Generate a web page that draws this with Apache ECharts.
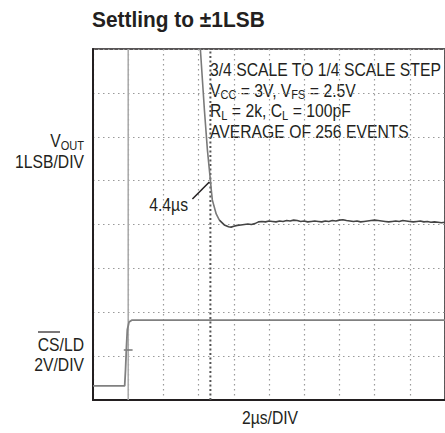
<!DOCTYPE html>
<html><head><meta charset="utf-8">
<script src="https://cdn.jsdelivr.net/npm/echarts@6/dist/echarts.min.js"></script>
<style>html,body{margin:0;padding:0;background:#fff}#c{width:445px;height:433px}</style>
</head><body><div id="c"></div>
<script>
// Time axis in µs relative to the CS/LD trigger edge (2µs per division)
const xTicks = [-2, 0, 2, 4, 6, 8, 10, 12, 14, 16, 18];
// Vertical axis in divisions (8 divisions)
const yTicks = [0, 1, 2, 3, 4, 5, 6, 7, 8];

// VOUT trace (divisions)
const voutT = [3.9, 4.1, 4.33, 4.5, 4.67, 4.72, 4.78, 4.89, 5.0, 5.18, 5.46, 5.7, 5.85,
  6.0, 6.2, 6.4, 6.6, 6.8, 7.0, 7.2, 7.4, 7.6, 7.8, 8.0, 8.2, 8.4, 8.6, 8.8, 9.0, 9.2, 9.4, 9.6, 9.8,
  10.0, 10.2, 10.4, 10.6, 10.8, 11.0, 11.2, 11.4, 11.6, 11.8, 12.0, 12.2, 12.4, 12.6, 12.8, 13.0,
  13.2, 13.4, 13.6, 13.8, 14.0, 14.2, 14.4, 14.6, 14.8, 15.0, 15.2, 15.4, 15.6, 15.8, 16.0, 16.2,
  16.4, 16.6, 16.8, 17.0, 17.2, 17.4, 17.6, 17.8, 18.0];
const voutV = [8.4, 8.0, 6.61, 5.7, 5.01, 4.79, 4.56, 4.40, 4.24, 4.10, 3.99, 3.95, 3.94,
  3.96, 3.98, 3.99, 4.00, 4.01, 4.00, 4.02,
  4.06, 4.07, 4.06, 4.08, 4.07, 4.06, 4.08, 4.07, 4.09, 4.08,
  4.10, 4.09, 4.07, 4.08, 4.06, 4.07, 4.08, 4.07, 4.06, 4.08,
  4.07, 4.09, 4.08, 4.10, 4.11, 4.09, 4.08, 4.07, 4.08, 4.06,
  4.07, 4.08, 4.09, 4.10, 4.09, 4.08, 4.07, 4.06, 4.07, 4.08,
  4.07, 4.09, 4.08, 4.07, 4.06, 4.07, 4.08, 4.06, 4.07, 4.05,
  4.06, 4.05, 4.04, 4.05];

// CS/LD trace (divisions)
const csT = [-2, -0.2, -0.15, -0.1, -0.05, 0.05, 0.2, 18];
const csV = [0.32, 0.32, 0.7, 1.2, 1.6, 1.78, 1.82, 1.82];

const triggerT = 0;       // trigger position
const trigLevel = 1.14;   // trigger level marker
const cursorT = 4.67;     // settling cursor
const arrowFrom = [3.65, 4.58];
const arrowTo = [4.61, 4.97];

const titleText = 'Settling to ±1LSB';
const noteLines = [
  '{t|3/4 SCALE TO 1/4 SCALE STEP}',
  '{t|V}{s|CC}{t| = 3V, V}{s|FS}{t| = 2.5V}',
  '{t|R}{s|L}{t| = 2k, C}{s|L}{t| = 100pF}',
  '{t|AVERAGE OF 256 EVENTS}'
];
const xName = '2µs/DIV';
const cursorLabel = '4.4µs';

const FONT = '"Liberation Sans", Arial, sans-serif';
const INK = '#231f20';
const SX = 0.85;
const FS = 18.5;
const rich = {
  t: { fill: INK, fontSize: FS, fontFamily: FONT },
  s: { fill: INK, fontSize: 13, fontFamily: FONT, padding: [9, 0, 0, 0] }
};

function zip(a, b) { return a.map((v, i) => [v, b[i]]); }
function txt(x, y, text, align, extra) {
  return Object.assign({
    type: 'text', x: x, y: y, scaleX: SX, silent: true,
    style: { text: text, x: 0, y: 0, align: align, verticalAlign: 'middle',
      fill: INK, fontSize: FS, fontFamily: FONT, rich: rich }
  }, extra || {});
}

const chart = echarts.init(document.getElementById('c'), null, { renderer: 'svg' });
const grid = { left: 93, top: 49, width: 354, height: 351 };

const graphics = [
  txt(92, 20, titleText, 'left', { scaleX: 0.95, style: { text: titleText, x: 0, y: 0, align: 'left', verticalAlign: 'middle', fill: INK, fontSize: 22, fontWeight: 'bold', fontFamily: FONT } }),
  txt(84, 141, '{t|V}{s|OUT}', 'right'),
  txt(84, 161.5, '{t|1LSB/DIV}', 'right'),
  txt(84, 345, '{t|CS/LD}', 'right'),
  txt(84, 365, '{t|2V/DIV}', 'right'),
  txt(270, 418, '{t|' + xName + '}', 'center'),
  txt(188, 205, '{t|' + cursorLabel + '}', 'right'),
  { type: 'line', silent: true, shape: { x1: 38, y1: 332, x2: 60, y2: 332 }, style: { stroke: INK, lineWidth: 1.2 } }
];
noteLines.forEach((l, i) => graphics.push(txt(210, 70 + i * 20.5, l, 'left')));

const voutAll = zip(voutT, voutV);
const splitIdx = 9; // steep part drawn lighter, settled part darker

chart.setOption({
  animation: false,
  backgroundColor: '#fff',
  grid: Object.assign({ show: true, borderColor: INK, borderWidth: 1.5, backgroundColor: 'transparent' }, grid),
  xAxis: {
    type: 'value', min: xTicks[0], max: xTicks[xTicks.length - 1], interval: 2,
    axisLine: { show: true, onZero: false, lineStyle: { color: INK, width: 2 } },
    axisTick: { show: false }, axisLabel: { show: false },
    splitLine: { show: true, lineStyle: { color: '#9a9a9a', type: [1.5, 3.5], width: 1.2 } }
  },
  yAxis: {
    type: 'value', min: yTicks[0], max: yTicks[yTicks.length - 1], interval: 1,
    axisLine: { show: true, onZero: false, lineStyle: { color: INK, width: 2 } },
    axisTick: { show: false }, axisLabel: { show: false },
    splitLine: { show: true, lineStyle: { color: '#9a9a9a', type: [1.5, 3.5], width: 1.2 } }
  },
  series: [
    { type: 'line', name: 'trigger', data: [[triggerT, yTicks[0]], [triggerT, yTicks[yTicks.length - 1]]],
      symbol: 'none', silent: true, lineStyle: { color: '#a8a8a8', width: 1.5 } },
    { type: 'line', name: 'cursor', data: [[cursorT, yTicks[0]], [cursorT, yTicks[yTicks.length - 1]]],
      symbol: 'none', silent: true, lineStyle: { color: '#555', width: 2, type: [2, 2.5] } },
    { type: 'line', name: 'triglevel', data: [[-0.25, trigLevel], [0.25, trigLevel]],
      symbol: 'none', silent: true, lineStyle: { color: '#777', width: 1.5 } },
    { type: 'line', name: 'CS/LD', data: zip(csT, csV), symbol: 'none', silent: true,
      lineStyle: { color: '#808080', width: 1.8 } },
    { type: 'line', name: 'VOUT edge', data: voutAll.slice(0, splitIdx + 1), symbol: 'none', silent: true, clip: true,
      lineStyle: { color: '#7a7a7a', width: 1.6 } },
    { type: 'line', name: 'VOUT', data: voutAll.slice(splitIdx), symbol: 'none', silent: true, clip: true,
      lineStyle: { color: '#444', width: 1.6 },
      markLine: { silent: true, symbol: ['none', 'arrow'], symbolSize: [0, 10], label: { show: false },
        lineStyle: { color: INK, width: 1.5, type: 'solid' },
        data: [[{ coord: arrowFrom }, { coord: arrowTo }]] } }
  ],
  graphic: graphics
});
</script></body></html>
